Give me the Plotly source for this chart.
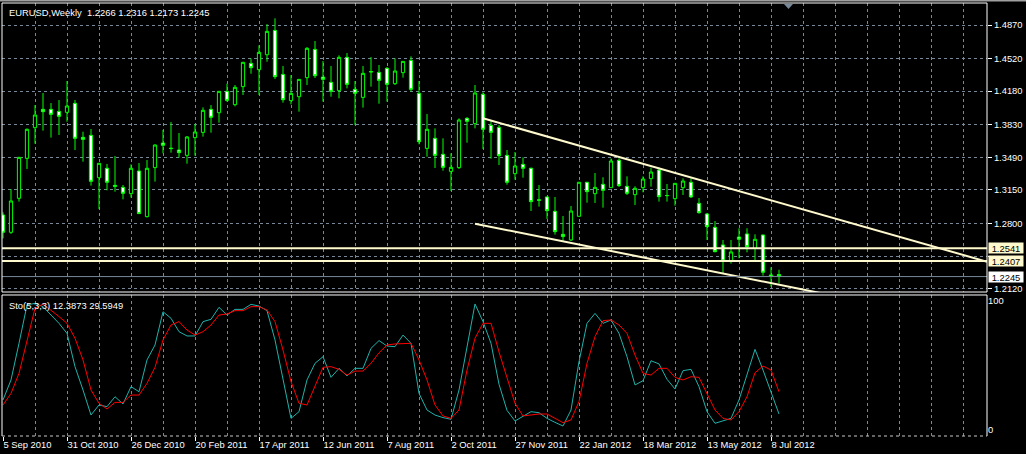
import pandas as pd
import plotly.graph_objects as go

# ---------------- data ----------------
HEADER_TEXT = "EURUSD,Weekly\u00a0\u00a01.2266 1.2316 1.2173 1.2245"
STO_TEXT = "Sto(5,3,3) 12.3873 29.5949"
START = "2010-09-05"  # first weekly bar

OPEN = [1.2888, 1.2707, 1.3062, 1.3479, 1.3799, 1.3990, 1.3990, 1.3969, 1.3959, 1.4053,
        1.3698, 1.3719, 1.3277, 1.3375, 1.3197, 1.3176, 1.3110, 1.3347, 1.2870, 1.3382,
        1.3639, 1.3585, 1.3566, 1.3510, 1.3695, 1.3750, 1.3990, 1.3955, 1.4178, 1.4039,
        1.4227, 1.4470, 1.4404, 1.4560, 1.4814, 1.4355, 1.4081, 1.4122, 1.4321, 1.4616,
        1.4327, 1.4272, 1.4185, 1.4533, 1.4199, 1.4115, 1.4385, 1.4376, 1.4418, 1.4258,
        1.4373, 1.4501, 1.4157, 1.3583, 1.3688, 1.3521, 1.3343, 1.3382, 1.3896, 1.3841,
        1.4147, 1.3823, 1.3802, 1.3510, 1.3319, 1.3416, 1.3375, 1.3046, 1.3076, 1.2926,
        1.2686, 1.2627, 1.2874, 1.3229, 1.3110, 1.3208, 1.3173, 1.3458, 1.3187, 1.3100,
        1.3173, 1.3267, 1.3357, 1.3089, 1.3058, 1.3173, 1.3229, 1.3009, 1.2898, 1.2759,
        1.2575, 1.2408, 1.2658, 1.2690, 1.2540, 1.2679, 1.2262, 1.2266]
HIGH = [1.2916, 1.3159, 1.3495, 1.3790, 1.4035, 1.4161, 1.4056, 1.4088, 1.4286, 1.4088,
        1.3757, 1.3785, 1.3430, 1.3420, 1.3503, 1.3201, 1.3416, 1.3430, 1.3462, 1.3625,
        1.3775, 1.3858, 1.3743, 1.3712, 1.3837, 1.4011, 1.4035, 1.4182, 1.4258, 1.4244,
        1.4485, 1.4522, 1.4658, 1.4880, 1.4940, 1.4442, 1.4348, 1.4306, 1.4640, 1.4703,
        1.4494, 1.4442, 1.4554, 1.4578, 1.4286, 1.4442, 1.4536, 1.4453, 1.4432, 1.4522,
        1.4494, 1.4543, 1.4286, 1.3941, 1.3792, 1.3688, 1.3531, 1.3896, 1.3910, 1.4244,
        1.4168, 1.3868, 1.3827, 1.3566, 1.3545, 1.3489, 1.3382, 1.3201, 1.3080, 1.3076,
        1.2877, 1.2982, 1.3233, 1.3233, 1.3326, 1.3281, 1.3479, 1.3479, 1.3291, 1.3187,
        1.3291, 1.3382, 1.3382, 1.3211, 1.3221, 1.3270, 1.3270, 1.3065, 1.2909, 1.2825,
        1.2627, 1.2627, 1.2749, 1.2749, 1.2686, 1.2683, 1.2342, 1.2316]
LOW = [1.2644, 1.2690, 1.3027, 1.3368, 1.3632, 1.3768, 1.3695, 1.3722, 1.3861, 1.3566,
       1.3444, 1.3194, 1.2950, 1.3145, 1.3131, 1.3051, 1.3069, 1.2900, 1.2862, 1.3236,
       1.3531, 1.3538, 1.3486, 1.3423, 1.3507, 1.3705, 1.3747, 1.3851, 1.4070, 1.4021,
       1.4140, 1.4362, 1.4140, 1.4487, 1.4307, 1.4060, 1.4042, 1.3966, 1.4244, 1.4317,
       1.4070, 1.4122, 1.4105, 1.4209, 1.3827, 1.4008, 1.4227, 1.4049, 1.4070, 1.4244,
       1.4321, 1.4174, 1.3625, 1.3496, 1.3378, 1.3350, 1.3138, 1.3368, 1.3642, 1.3792,
       1.3576, 1.3475, 1.3409, 1.3204, 1.3256, 1.3277, 1.2929, 1.2975, 1.2846, 1.2683,
       1.2617, 1.2617, 1.2870, 1.3016, 1.3013, 1.2964, 1.3170, 1.3180, 1.3096, 1.2992,
       1.3124, 1.3183, 1.3027, 1.3027, 1.2985, 1.3096, 1.3065, 1.2902, 1.2627, 1.2498,
       1.2279, 1.2380, 1.2436, 1.2498, 1.2418, 1.2255, 1.2140, 1.2173]
CLOSE = [1.2707, 1.3034, 1.3489, 1.3782, 1.3931, 1.3966, 1.3938, 1.3917, 1.4025, 1.3688,
         1.3677, 1.3239, 1.3427, 1.3229, 1.3187, 1.3114, 1.3375, 1.2902, 1.3375, 1.3618,
         1.3615, 1.3581, 1.3538, 1.3702, 1.3754, 1.3980, 1.3907, 1.4178, 1.4084, 1.4220,
         1.4481, 1.4425, 1.4585, 1.4804, 1.4331, 1.4091, 1.4157, 1.4303, 1.4627, 1.4341,
         1.4303, 1.4178, 1.4533, 1.4251, 1.4157, 1.4366, 1.4381, 1.4293, 1.4251, 1.4390,
         1.4491, 1.4199, 1.3653, 1.3782, 1.3510, 1.3385, 1.3385, 1.3879, 1.3865, 1.4161,
         1.3782, 1.3750, 1.3507, 1.3229, 1.3399, 1.3375, 1.3027, 1.3042, 1.2933, 1.2714,
         1.2662, 1.2929, 1.3229, 1.3131, 1.3176, 1.3145, 1.3451, 1.3194, 1.3114, 1.3166,
         1.3263, 1.3336, 1.3079, 1.3091, 1.3218, 1.3242, 1.3076, 1.2912, 1.2766, 1.2505,
         1.2408, 1.2502, 1.2634, 1.2557, 1.2634, 1.2290, 1.2248, 1.2245]

STO_MAIN = [23.3, 38.8, 67.2, 96.9, 98.2, 95.6, 89.1, 82.7, 74.9, 49.1,
            31.0, 11.6, 19.4, 18.1, 25.8, 20.2, 33.6, 29.7, 54.3, 65.9,
            91.7, 86.6, 76.2, 72.9, 72.9, 84.0, 85.8, 95.1, 89.1, 93.5,
            93.5, 97.4, 96.1, 92.5, 69.8, 38.8, 9.0, 14.2, 38.8, 51.7,
            56.8, 40.8, 47.8, 41.9, 47.8, 47.8, 63.3, 69.3, 65.1, 64.6,
            73.6, 67.2, 28.4, 15.5, 11.6, 9.6, 8.3, 31.0, 65.9, 97.7,
            84.0, 67.2, 35.5, 15.2, 7.0, 10.9, 14.2, 13.4, 9.0, 5.9,
            3.1, 15.5, 53.0, 82.7, 90.4, 82.7, 85.3, 74.9, 56.8, 34.9,
            38.2, 53.7, 51.2, 39.3, 31.8, 46.0, 47.0, 33.6, 14.2, 5.2,
            7.2, 9.0, 23.3, 42.6, 62.5, 46.5, 29.7, 12.3873]
STO_SIGNAL = [19.4, 28.4, 43.9, 68.5, 94.3, 97.7, 93.0, 87.9, 82.7, 71.1,
              54.3, 31.0, 20.7, 16.3, 21.4, 21.4, 27.1, 27.1, 36.2, 48.6,
              69.8, 81.4, 84.0, 77.5, 73.6, 76.2, 81.4, 89.1, 89.9, 92.5,
              92.5, 95.6, 95.6, 93.0, 84.0, 62.0, 37.5, 20.7, 19.4, 33.6,
              48.6, 49.1, 47.0, 42.6, 45.7, 45.7, 51.7, 59.9, 65.9, 66.7,
              67.2, 67.2, 54.3, 38.8, 19.4, 10.9, 9.0, 15.5, 46.5, 71.1,
              82.7, 82.7, 60.5, 40.7, 20.7, 10.9, 11.6, 12.4, 12.4, 9.0,
              5.7, 7.8, 22.0, 51.7, 72.4, 84.8, 85.3, 81.4, 74.9, 58.1,
              43.9, 42.6, 47.8, 47.8, 40.8, 38.8, 41.3, 40.8, 28.4, 15.5,
              9.0, 7.8, 14.2, 25.8, 44.4, 49.6, 46.5, 29.5949]

DATE_LABELS = ["5 Sep 2010", "31 Oct 2010", "26 Dec 2010", "20 Feb 2011", "17 Apr 2011",
               "12 Jun 2011", "7 Aug 2011", "2 Oct 2011", "27 Nov 2011", "22 Jan 2012",
               "18 Mar 2012", "13 May 2012", "8 Jul 2012"]
PRICE_TICKS = [1.2120, 1.2455, 1.2800, 1.3150, 1.3490, 1.3830, 1.4180, 1.4520, 1.4870]
PRICE_TICK_TEXT = ["1.2120", "", "1.2800", "1.3150", "1.3490", "1.3830", "1.4180", "1.4520", "1.4870"]
STO_TICKS = [0, 100]
STO_TICK_TEXT = ["0", "100"]

LEVELS = [1.2541, 1.2407]
LEVEL_TEXT = ["1.2541", "1.2407"]
BID = 1.2245
BID_TEXT = "1.2245"

UPPER_TREND_X = ["2011-10-30", "2013-01-13"]
UPPER_TREND_Y = [1.3897, 1.2400]
LOWER_TREND_X = ["2011-10-23", "2013-01-13"]
LOWER_TREND_Y = [1.2797, 1.1724]

# ---------------- style ----------------
FONT = "'Liberation Sans', Arial, sans-serif"
FS = 9.4
GREEN = "#00FF00"
GRID = "#778899"
CREAM = "#FFFACD"
WEEK_MS = 7 * 24 * 3600 * 1000

dates = pd.date_range(START, periods=len(OPEN), freq="7D")
label_dates = list(dates[::8][:len(DATE_LABELS)])
x_start = pd.Timestamp(START) - pd.Timedelta(hours=21)
x_end = pd.Timestamp(START) + pd.Timedelta(days=7 * 123)

fig = go.Figure()
fig.add_trace(go.Candlestick(
    x=dates, open=OPEN, high=HIGH, low=LOW, close=CLOSE,
    increasing=dict(line=dict(color=GREEN, width=1), fillcolor="black"),
    decreasing=dict(line=dict(color=GREEN, width=1), fillcolor="white"),
    whiskerwidth=0, xaxis="x", yaxis="y", hoverinfo="skip", showlegend=False))

for tx, ty in ((UPPER_TREND_X, UPPER_TREND_Y), (LOWER_TREND_X, LOWER_TREND_Y)):
    fig.add_trace(go.Scatter(x=tx, y=ty, mode="lines", line=dict(color=CREAM, width=2),
                             xaxis="x", yaxis="y", hoverinfo="skip", showlegend=False))

fig.add_trace(go.Scatter(x=dates, y=STO_MAIN, mode="lines", line=dict(color="#20B2AA", width=1),
                         xaxis="x", yaxis="y2", hoverinfo="skip", showlegend=False))
fig.add_trace(go.Scatter(x=dates, y=STO_SIGNAL, mode="lines", line=dict(color="#FF0000", width=1),
                         xaxis="x", yaxis="y2", hoverinfo="skip", showlegend=False))

shapes = []
for lv in LEVELS:
    shapes.append(dict(type="line", xref="x domain", yref="y", x0=0, x1=1, y0=lv, y1=lv,
                       line=dict(color=CREAM, width=2), layer="above"))
shapes.append(dict(type="line", xref="x domain", yref="y", x0=0, x1=1, y0=BID, y1=BID,
                   line=dict(color=GRID, width=1), layer="above"))
# frames
shapes.append(dict(type="rect", xref="x domain", yref="y domain", x0=0, x1=1, y0=0, y1=1,
                   line=dict(color="white", width=1), fillcolor="rgba(0,0,0,0)", layer="above"))
for (x0, x1, y0, y1) in ((0, 1, 1, 1), (0, 0, 0, 1), (1, 1, 0, 1)):
    shapes.append(dict(type="line", xref="x domain", yref="y2 domain", x0=x0, x1=x1, y0=y0, y1=y1,
                       line=dict(color="white", width=1), layer="above"))
shapes.append(dict(type="line", xref="x domain", yref="y2 domain", x0=0, x1=1, y0=0, y1=0,
                   line=dict(color="#C8C8C8", width=1, dash="3px,3px"), layer="above"))
# window top border and chart-shift marker
shapes.append(dict(type="line", xref="paper", yref="paper", x0=-0.01, x1=1.05, y0=1.0058, y1=1.0058,
                   line=dict(color="#A0A0A0", width=2)))
shapes.append(dict(type="path", xref="paper", yref="paper",
                   path="M 0.7939 0.9977 L 0.8030 0.9977 L 0.7985 0.9861 Z",
                   fillcolor=GRID, line=dict(width=0)))

annotations = [
    dict(xref="paper", yref="paper", x=0.005, y=0.979, xanchor="left", yanchor="middle",
         text=HEADER_TEXT, showarrow=False, font=dict(color="white", size=FS, family=FONT)),
    dict(xref="paper", yref="paper", x=0.005, y=0.3025, xanchor="left", yanchor="middle",
         text=STO_TEXT, showarrow=False, font=dict(color="white", size=FS, family=FONT)),
]
for lv, txt in zip(LEVELS, LEVEL_TEXT):
    annotations.append(dict(xref="paper", yref="y", x=1, y=lv, xanchor="left", yanchor="middle",
                            xshift=1, text=txt, showarrow=False, bgcolor=CREAM, borderpad=0,
                            width=34, height=10, font=dict(color="black", size=FS, family=FONT)))
annotations.append(dict(xref="paper", yref="y", x=1, y=BID, xanchor="left", yanchor="middle",
                        xshift=1, text=BID_TEXT, showarrow=False, bgcolor="white", borderpad=0,
                        width=34, height=10, font=dict(color="black", size=FS, family=FONT)))

fig.update_layout(
    width=1026, height=454, autosize=False,
    margin=dict(l=2, r=39, t=3, b=18, pad=0),
    paper_bgcolor="black", plot_bgcolor="black",
    showlegend=False, boxgap=0.42, hovermode=False,
    font=dict(family=FONT, size=FS, color="white"),
    shapes=shapes, annotations=annotations,
    xaxis=dict(type="date", range=[x_start, x_end], anchor="y2",
               rangeslider=dict(visible=False),
               tickvals=label_dates, ticktext=DATE_LABELS,
               ticks="outside", ticklen=4, tickcolor="white", tickwidth=1,
               ticklabelposition="outside right",
               showgrid=True, gridcolor=GRID, griddash="3px,3px", gridwidth=1,
               minor=dict(tick0=START, dtick=4 * WEEK_MS, showgrid=True, gridcolor=GRID,
                          griddash="3px,3px", gridwidth=1, ticks=""),
               zeroline=False, showline=False,
               tickfont=dict(color="white", size=FS, family=FONT)),
    yaxis=dict(domain=[0.33256, 1.0], range=[1.2084, 1.5100], side="right", anchor="x",
               tickvals=PRICE_TICKS, ticktext=PRICE_TICK_TEXT,
               ticks="outside", ticklen=4, tickcolor="white", tickwidth=1,
               showgrid=True, gridcolor=GRID, griddash="3px,3px", gridwidth=1,
               zeroline=False, showline=False,
               tickfont=dict(color="white", size=FS, family=FONT)),
    yaxis2=dict(domain=[0.0, 0.32564], range=[-4.65, 104.65], side="right", anchor="x",
                tickvals=STO_TICKS, ticktext=STO_TICK_TEXT, ticks="",
                showgrid=False, zeroline=False, showline=False,
                tickfont=dict(color="white", size=FS, family=FONT)),
)

fig.write_html("out.html", config={"displayModeBar": False, "staticPlot": True},
               post_script="document.body.style.margin='0';document.body.style.background='black';"
                           "document.body.style.overflow='hidden';")
